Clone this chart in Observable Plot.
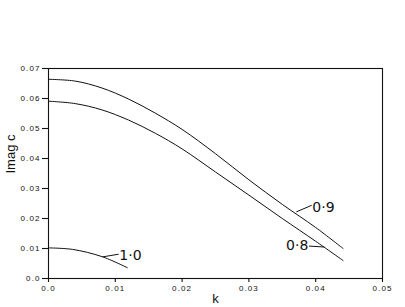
<!DOCTYPE html>
<html>
<head>
<meta charset="utf-8">
<script src="https://cdn.jsdelivr.net/npm/d3@7"></script>
<script src="https://cdn.jsdelivr.net/npm/@observablehq/plot@0.6"></script>
<style>
  html, body { margin: 0; padding: 0; background: #fff; }
  #chart svg { display: block; }
  #chart g[aria-label="x-axis tick label"] text,
  #chart g[aria-label="y-axis tick label"] text { letter-spacing: 1.1px; }
</style>
</head>
<body>
<div id="chart"></div>
<script>
// Curve data (k, Imag c)
const k09 = [0, 0.004, 0.008, 0.012, 0.016, 0.020, 0.025, 0.030, 0.035, 0.040, 0.0441];
const c09 = [0.0664, 0.0658, 0.0635, 0.0598, 0.0551, 0.0497, 0.0416, 0.0329, 0.0247, 0.0170, 0.0100];

const k08 = [0, 0.004, 0.008, 0.012, 0.016, 0.020, 0.025, 0.030, 0.035, 0.040, 0.0441];
const c08 = [0.0591, 0.0583, 0.0562, 0.0528, 0.0484, 0.0432, 0.0355, 0.0278, 0.0200, 0.0124, 0.0060];

const k10 = [0, 0.0036, 0.008, 0.0118];
const c10 = [0.0102, 0.0097, 0.0073, 0.0036];

const xTicks = [0, 0.01, 0.02, 0.03, 0.04, 0.05];
const xTickLabels = ["0.0", "0.01", "0.02", "0.03", "0.04", "0.05"];
const yTicks = [0, 0.01, 0.02, 0.03, 0.04, 0.05, 0.06, 0.07];
const yTickLabels = ["0.0", "0.01", "0.02", "0.03", "0.04", "0.05", "0.06", "0.07"];

// Curve labels with leader lines (label text, leader from curve -> label)
const labelNames = ["1·0", "0·9", "0·8"];
const leaderK1 = [0.0081, 0.0371, 0.0413];
const leaderC1 = [0.0072, 0.0222, 0.0105];
const leaderK2 = [0.0105, 0.0394, 0.0390];
const leaderC2 = [0.0081, 0.0244, 0.0108];
const labelK = [0.0106, 0.0395, 0.0389];
const labelC = [0.0075, 0.0238, 0.0111];
const labelAnchor = ["start", "start", "end"];

const series = [];
k09.forEach((k, i) => series.push({k, c: c09[i], s: "0.9"}));
k08.forEach((k, i) => series.push({k, c: c08[i], s: "0.8"}));
k10.forEach((k, i) => series.push({k, c: c10[i], s: "1.0"}));

const labels = labelNames.map((t, i) => ({
  t, k1: leaderK1[i], c1: leaderC1[i], k2: leaderK2[i], c2: leaderC2[i],
  k: labelK[i], c: labelC[i], a: labelAnchor[i]
}));

const fmt = (arr, labs) => d => labs[arr.indexOf(d)];
const ink = "#111";

const chart = Plot.plot({
  width: 405,
  height: 307,
  marginLeft: 48,
  marginRight: 23,
  marginTop: 68,
  marginBottom: 29,
  style: {fontFamily: "Liberation Sans, Arial, sans-serif", fontSize: "8px", color: ink, background: "#fff"},
  x: {domain: [0, 0.05]},
  y: {domain: [0, 0.07]},
  marks: [
    Plot.frame({stroke: ink, strokeWidth: 1.1}),
    Plot.axisX({ticks: xTicks, tickFormat: fmt(xTicks, xTickLabels), tickSize: 4, tickPadding: 3, label: null, stroke: ink, fill: ink, strokeWidth: 1.1}),
    Plot.axisY({ticks: yTicks, tickFormat: fmt(yTicks, yTickLabels), tickSize: 6, tickPadding: 2, label: null, stroke: ink, fill: ink, strokeWidth: 1.1}),
    Plot.line(series, {x: "k", y: "c", z: "s", stroke: ink, strokeWidth: 1, curve: "catmull-rom"}),
    Plot.link(labels, {x1: "k1", y1: "c1", x2: "k2", y2: "c2", stroke: ink, strokeWidth: 1}),
    Plot.text(labels.filter(d => d.a === "start"), {x: "k", y: "c", text: "t", textAnchor: "start", fontSize: 14, fontWeight: "normal", fontFamily: "DejaVu Sans", fill: ink}),
    Plot.text(labels.filter(d => d.a === "end"), {x: "k", y: "c", text: "t", textAnchor: "end", fontSize: 14, fontWeight: "normal", fontFamily: "DejaVu Sans", fill: ink}),
    Plot.text(["k"], {frameAnchor: "bottom", dy: 24, fontSize: 13, fontFamily: "Liberation Sans", fill: ink}),
    Plot.text(["Imag c"], {frameAnchor: "left", dx: -38, rotate: -90, fontSize: 13, fontFamily: "Liberation Sans Narrow, Liberation Sans", fill: ink})
  ]
});
document.getElementById("chart").appendChild(chart);
</script>
</body>
</html>
